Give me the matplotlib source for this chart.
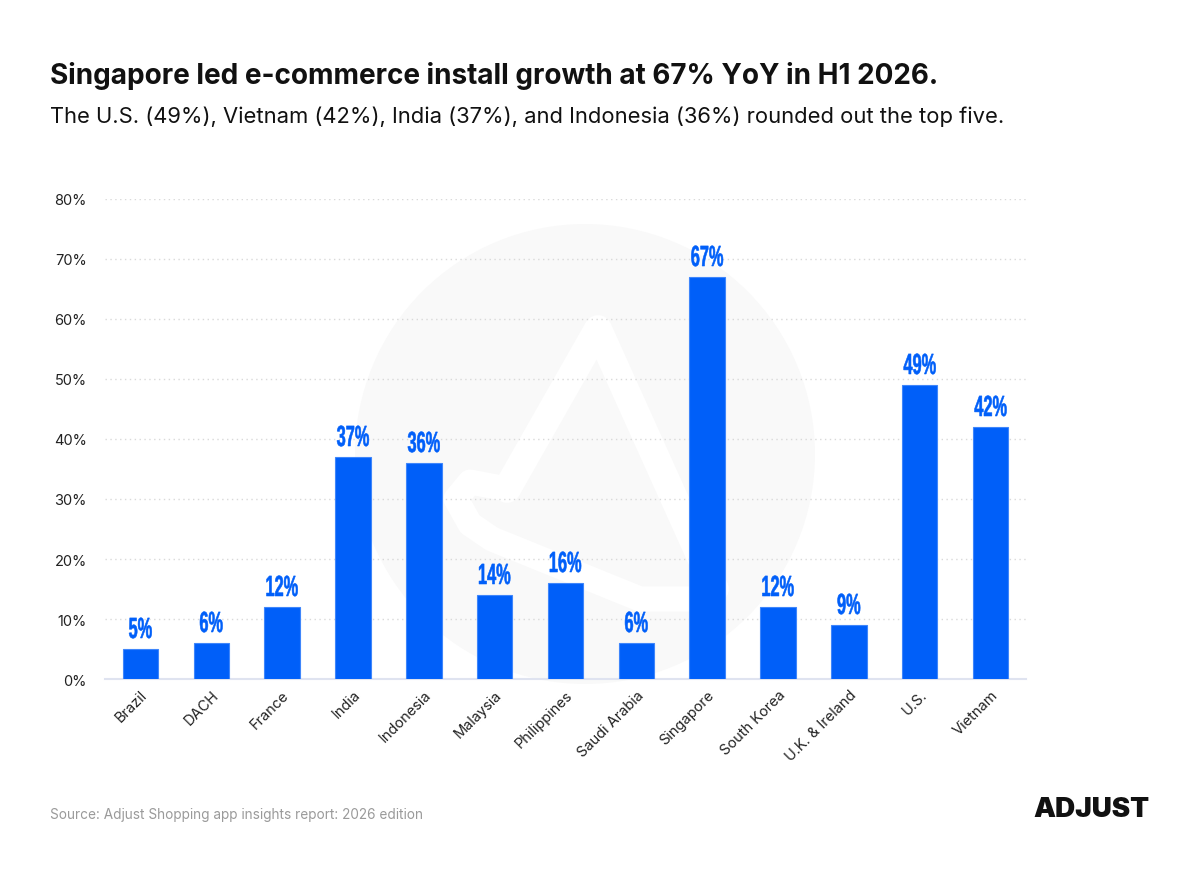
import matplotlib
matplotlib.use("Agg")
import matplotlib.pyplot as plt
from matplotlib.patches import Circle, PathPatch
from matplotlib.textpath import TextPath
from matplotlib.font_manager import FontProperties
from matplotlib.transforms import Affine2D, ScaledTranslation
from matplotlib.ticker import FuncFormatter

categories = ["Brazil", "DACH", "France", "India", "Indonesia", "Malaysia", "Philippines",
              "Saudi Arabia", "Singapore", "South Korea", "U.K. & Ireland", "U.S.", "Vietnam"]
values = [5, 6, 12, 37, 36, 14, 16, 6, 67, 12, 9, 49, 42]
yticks = [0, 10, 20, 30, 40, 50, 60, 70, 80]

title = "Singapore led e-commerce install growth at 67% YoY in H1 2026."
subtitle = "The U.S. (49%), Vietnam (42%), India (37%), and Indonesia (36%) rounded out the top five."
source = "Source: Adjust Shopping app insights report: 2026 edition"

BLUE = "#005ff9"
FONT = "Inter"

fig = plt.figure(figsize=(12, 8.7), dpi=100)
fig.patch.set_facecolor("white")

# watermark layer in pixel coords
bg = fig.add_axes([0, 0, 1, 1], zorder=0)
bg.set_xlim(0, 1200)
bg.set_ylim(870, 0)
bg.axis("off")
bg.add_patch(Circle((585, 455), 230, facecolor="#f9f9f9", edgecolor="none"))
lw = 20
bg.plot([715, 598, 507], [590, 330, 490], color="white", lw=lw, solid_capstyle="round",
        solid_joinstyle="round")
bg.plot([507, 470, 456, 470, 492, 640, 712], [490, 483, 500, 525, 540, 600, 600], color="white",
        lw=lw * 0.9, solid_capstyle="round", solid_joinstyle="round")

ax = fig.add_axes([105 / 1200, 1 - 680 / 870, (1026 - 105) / 1200, (680 - 200) / 870], zorder=1)
ax.patch.set_alpha(0)
x = list(range(len(categories)))
ax.bar(x, values, width=0.5, color=BLUE, edgecolor="#3f86fb", linewidth=0.8, zorder=3)

# condensed bold value labels (horizontally compressed glyph paths)
lab_fp = FontProperties(family="Liberation Sans", weight="bold")
cap_px = 21.0
size = cap_px / 0.72
for xi, v in zip(x, values):
    tp = TextPath((0, 0), f"{v}%", prop=lab_fp, size=size)
    ext = tp.get_extents()
    sx = 0.56
    tr = (Affine2D().translate(-(ext.x0 + ext.x1) / 2, 0).scale(sx, 1.0).translate(0, 11)
          + ScaledTranslation(xi, v, ax.transData))
    ax.add_artist(PathPatch(tp, transform=tr, facecolor=BLUE, edgecolor=BLUE, lw=0.4,
                            zorder=4, clip_on=False))

ax.set_xlim(-0.5, len(categories) - 0.5)
ax.set_ylim(0, 80)
ax.set_yticks(yticks)
ax.yaxis.set_major_formatter(FuncFormatter(lambda v, p: f"{v:.0f}%"))
ax.grid(axis="y", color="#d9d9d9", linestyle=(0, (1, 2.5)), linewidth=1, zorder=0)
for s in ["top", "right", "left"]:
    ax.spines[s].set_visible(False)
ax.spines["bottom"].set_color("#dfe3f0")
ax.spines["bottom"].set_linewidth(1.5)
ax.tick_params(axis="both", length=0, labelsize=10.5, colors="#222222", labelfontfamily=FONT)
ax.tick_params(axis="y", pad=13)
ax.tick_params(axis="x", pad=6)
ax.set_xticks(x)
ax.set_xticklabels(categories, rotation=45, ha="right", rotation_mode="anchor", fontsize=10.5)

fig.text(50 / 1200, 1 - 76 / 870, title, fontsize=20.1, fontweight="bold", family=FONT,
         color="#111111", va="center", ha="left")
fig.text(50 / 1200, 1 - 117 / 870, subtitle, fontsize=15.8, family=FONT, color="#111111",
         va="center", ha="left")
fig.text(50 / 1200, 1 - 815 / 870, source, fontsize=9.8, family=FONT, color="#9a9a9a",
         va="center", ha="left")
fig.text(1150 / 1200, 1 - 810 / 870, "ADJUST", fontsize=20, fontweight="black", family=FONT,
         color="#111111", va="center", ha="right")

fig.savefig("out.png", dpi=100, facecolor="white")
